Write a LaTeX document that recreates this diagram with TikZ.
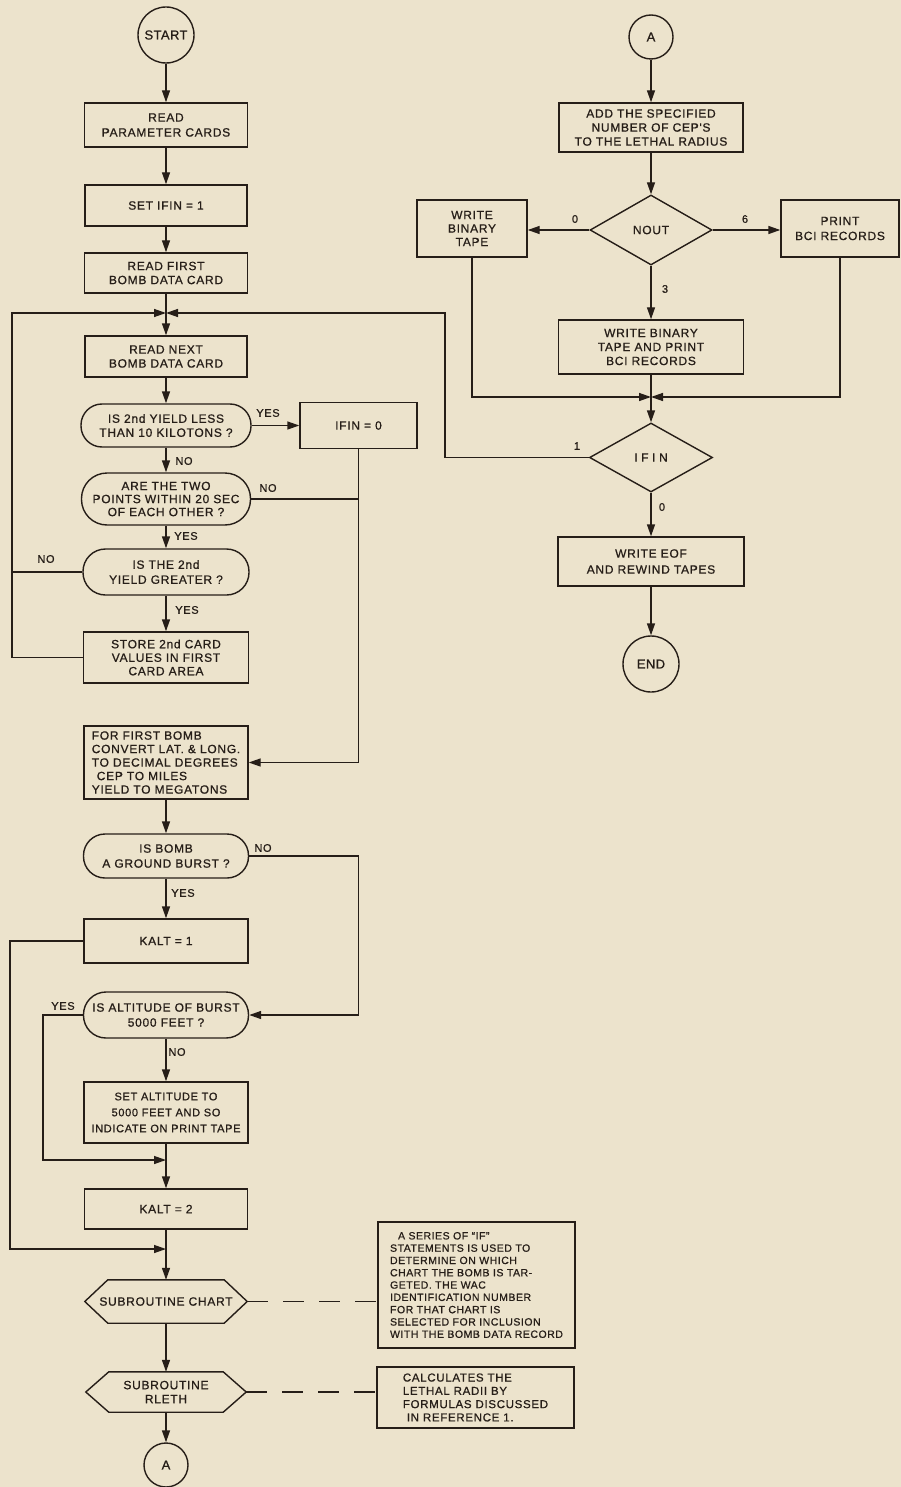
\documentclass[tikz,border=0pt]{standalone}
\usepackage{fontspec}
\setmainfont{Liberation Sans}
\newfontfamily\inkfont{Liberation Sans}[LetterSpace=6,FakeBold=0.8]
\newfontfamily\inknote{Liberation Sans}[LetterSpace=5,FakeBold=0.8]
\newfontfamily\inkterm{Liberation Sans}[LetterSpace=3,FakeBold=0.8]
\usetikzlibrary{arrows.meta,shapes.geometric}
\definecolor{paper}{RGB}{236,227,204}
\definecolor{ink}{RGB}{38,30,24}
\newcommand\boxtext{\inkfont\fontsize{12}{15}\selectfont}
% hexagonal subroutine frame drawn round a rectangular node
\newcommand\hexframe[1]{\draw[line] (#1.west) -- ([xshift=23pt]#1.north west) -- ([xshift=-23pt]#1.north east) -- (#1.east) -- ([xshift=-23pt]#1.south east) -- ([xshift=23pt]#1.south west) -- cycle;}

\begin{document}
\begin{tikzpicture}[x=1pt,y=-1pt,
  line/.style={draw=ink,line width=1.4pt},
  flow/.style={line,-{Triangle[length=12pt,width=8pt]}},
  dashline/.style={line,dash pattern=on 21pt off 15pt},
  proc/.style={draw=ink,line width=1.4pt,rectangle,inner sep=2pt,align=center,text=ink,font=\boxtext},
  hexbox/.style={rectangle,inner sep=2pt,align=center,text=ink,font=\boxtext},
  decis/.style={diamond,draw=ink,line width=1.4pt,inner sep=0pt,text=ink,font=\boxtext},
  term/.style={circle,draw=ink,line width=1.4pt,inner sep=0pt,text=ink,font=\inkterm\fontsize{13}{15}\selectfont},
  note/.style={draw=ink,line width=1.4pt,rectangle,inner sep=2pt,align=left,text=ink},
  lbl/.style={inner sep=0pt,text=ink,font=\inkfont\fontsize{11}{12}\selectfont}]

\fill[paper] (0,0) rectangle (901,1487);
\useasboundingbox (0,0) rectangle (901,1487);

% ---------- main column ----------
\node[term, minimum size=56pt] (start) at (166,35) {START};
\node[proc, minimum width=163pt, minimum height=44pt] (rpc) at (166,125) {READ\\PARAMETER CARDS};
\node[proc, minimum width=162pt, minimum height=41pt] (setifin) at (166,205.5) {SET IFIN = 1};
\node[proc, minimum width=163pt, minimum height=40pt, font=\inkfont\fontsize{12}{14}\selectfont] (rfirst) at (166,273) {READ FIRST\\BOMB DATA CARD};
\coordinate (j1) at (166,313);
\node[proc, minimum width=162pt, minimum height=41pt, font=\inkfont\fontsize{12}{14}\selectfont] (rnext) at (166,356.5) {READ NEXT\\BOMB DATA CARD};
\node[proc, rounded corners=21pt, minimum width=170pt, minimum height=43pt, font=\inkfont\fontsize{12}{14}\selectfont] (q1) at (166,425.5) {IS 2nd YIELD LESS\\THAN 10 KILOTONS ?};
\node[proc, minimum width=117pt, minimum height=46pt] (ifin0) at (358.5,425.5) {IFIN = 0};
\node[proc, rounded corners=25.5pt, minimum width=169pt, minimum height=52pt, font=\inkfont\fontsize{12}{13}\selectfont] (q2) at (166,499) {ARE THE TWO\\POINTS WITHIN 20 SEC\\OF EACH OTHER ?};
\node[proc, rounded corners=22.5pt, minimum width=166pt, minimum height=46pt] (q3) at (166,572) {IS THE 2nd\\YIELD GREATER ?};
\node[proc, minimum width=165pt, minimum height=51pt, font=\inkfont\fontsize{12}{13.5}\selectfont] (store) at (166,657.5) {STORE 2nd CARD\\VALUES IN FIRST\\CARD AREA};
\node[proc, align=left, minimum width=164pt, minimum height=73pt, font=\inkfont\fontsize{12}{13.5}\selectfont] (ffirst) at (166,762.5) {FOR FIRST BOMB\\CONVERT LAT. \& LONG.\\TO DECIMAL DEGREES\\\hspace*{5pt}CEP TO MILES\\YIELD TO MEGATONS};
\node[proc, rounded corners=21.5pt, minimum width=165pt, minimum height=44pt] (q4) at (166,856) {IS BOMB\\A GROUND BURST ?};
\node[proc, minimum width=164pt, minimum height=44pt] (kalt1) at (166,941) {KALT = 1};
\node[proc, rounded corners=22.5pt, minimum width=165pt, minimum height=46pt] (q5) at (166,1015) {IS ALTITUDE OF BURST\\5000 FEET ?};
\node[proc, minimum width=164pt, minimum height=61pt, font=\inkfont\fontsize{11}{16}\selectfont] (setalt) at (166,1112.5) {SET ALTITUDE TO\\5000 FEET AND SO\\INDICATE ON PRINT TAPE};
\coordinate (j2) at (166,1160);
\node[proc, minimum width=163pt, minimum height=40pt] (kalt2) at (166,1209) {KALT = 2};
\coordinate (j3) at (166,1249);
\node[hexbox, minimum width=162pt, minimum height=43pt] (chart) at (166,1301.5) {SUBROUTINE CHART};
\hexframe{chart}
\node[hexbox, minimum width=160pt, minimum height=40pt, font=\inkfont\fontsize{12}{14}\selectfont] (rleth) at (166,1392) {SUBROUTINE\\RLETH};
\hexframe{rleth}
\node[term, minimum size=44pt] (a1) at (166,1465) {A};

% ---------- notes ----------
\node[note, minimum width=197pt, minimum height=126pt, font=\inknote\fontsize{10.5}{12.3}\selectfont] (note1) at (476.5,1285) {\hspace*{8pt}A SERIES OF “IF”\\STATEMENTS IS USED TO\\DETERMINE ON WHICH\\CHART THE BOMB IS TAR-\\GETED. THE WAC\\IDENTIFICATION NUMBER\\FOR THAT CHART IS\\SELECTED FOR INCLUSION\\WITH THE BOMB DATA RECORD};
\node[note, minimum width=197pt, minimum height=61pt, font=\inkfont\fontsize{11.5}{13.3}\selectfont] (note2) at (475.5,1397.5) {CALCULATES THE\\LETHAL RADII BY\\FORMULAS DISCUSSED\\\hspace*{4pt}IN REFERENCE 1.};

% ---------- second column ----------
\node[term, minimum size=44pt] (a2) at (651,37) {A};
\node[proc, minimum width=184pt, minimum height=49pt, font=\inkfont\fontsize{12}{14}\selectfont] (add) at (651,127.5) {ADD THE SPECIFIED\\NUMBER OF CEP'S\\TO THE LETHAL RADIUS};
\node[decis, minimum width=122pt, minimum height=70pt] (nout) at (651,230) {NOUT};
\node[proc, minimum width=110pt, minimum height=57pt, font=\inkfont\fontsize{12}{13.5}\selectfont] (wbt) at (472,228.5) {WRITE\\BINARY\\TAPE};
\node[proc, minimum width=118pt, minimum height=57pt] (print) at (840,228.5) {PRINT\\BCI RECORDS};
\node[proc, minimum width=185pt, minimum height=54pt, font=\inkfont\fontsize{12}{14}\selectfont] (wbtp) at (651,347) {WRITE BINARY\\TAPE AND PRINT\\BCI RECORDS};
\coordinate (j4) at (651,397);
\node[decis, minimum width=123pt, minimum height=69pt, font=\inkfont\fontsize{12}{14}\selectfont\addfontfeatures{LetterSpace=30}] (ifin) at (651,457.5) {IFIN};
\node[proc, minimum width=186pt, minimum height=49pt, font=\inkfont\fontsize{12}{16}\selectfont] (eof) at (651,561.5) {WRITE EOF\\AND REWIND TAPES};
\node[term, minimum size=56pt] (stop) at (651,664) {END};

% ---------- connectors of the main column ----------
\coordinate (lt) at (12,313);
\coordinate (rt) at (445,313);
\coordinate (lk) at (10,1249);
\coordinate (ly) at (43,1160);
\draw[flow] (start) -- (rpc);
\draw[flow] (rpc) -- (setifin);
\draw[flow] (setifin) -- (rfirst);
\draw[flow] (rfirst) -- (rnext);
\draw[flow] (rnext) -- (q1);
\draw[flow] (q1.east) -- (q1.east -| ifin0.west);
\draw[flow] (q1) -- (q2);
\draw[line] (q2.east) -- (q2.east -| ifin0.south);
\draw[flow] (ifin0.south) |- (ffirst.east);
\draw[flow] (q2) -- (q3);
\draw[flow] (q3) -- (store);
\draw[line] (q3.west) -- (q3.west -| lt);
\draw[flow] (store.west) -| (lt) -- (j1);
\draw[flow] (ifin.west) -| (rt) -- (j1);
\draw[flow] (ffirst) -- (q4);
\draw[flow] (q4.east) -- (q4.east -| ifin0.south) -- (ifin0.south |- q5.east) -- (q5.east);
\draw[flow] (q4) -- (kalt1);
\draw[flow] (kalt1.west) -| (lk) -- (j3);
\draw[flow] (q5.west) -| (ly) -- (j2);
\draw[flow] (q5) -- (setalt);
\draw[flow] (setalt) -- (kalt2);
\draw[flow] (kalt2) -- (chart);
\draw[flow] (chart) -- (rleth);
\draw[flow] (rleth) -- (a1);
\draw[dashline] (chart.east) -- (chart.east -| note1.west);
\draw[dashline] (rleth.east) -- (rleth.east -| note2.west);

% ---------- connectors of the second column ----------
\draw[flow] (a2) -- (add);
\draw[flow] (add) -- (nout);
\draw[flow] (nout.west) -- (nout.west -| wbt.east);
\draw[flow] (nout.east) -- (nout.east -| print.west);
\draw[flow] (nout) -- (wbtp);
\draw[flow] (wbt.south) |- (j4);
\draw[flow] (print.south) |- (j4);
\draw[flow] (wbtp) -- (ifin);
\draw[flow] (ifin) -- (eof);
\draw[flow] (eof) -- (stop);

% ---------- branch labels ----------
\node[lbl] (l1) at (268,413) {YES};
\node[lbl] (l2) at (184,461) {NO};
\node[lbl] (l3) at (268,488) {NO};
\node[lbl] (l4) at (186,536) {YES};
\node[lbl] (l5) at (46,559) {NO};
\node[lbl] (l6) at (187,610) {YES};
\node[lbl] (l7) at (263,848) {NO};
\node[lbl] (l8) at (183,893) {YES};
\node[lbl] (l9) at (63,1006) {YES};
\node[lbl] (l10) at (177,1052) {NO};
\node[lbl] (l11) at (575,219) {0};
\node[lbl] (l12) at (745,219) {6};
\node[lbl] (l13) at (665,289) {3};
\node[lbl] (l14) at (577,446) {1};
\node[lbl] (l15) at (662,507) {0};
\end{tikzpicture}
\end{document}
